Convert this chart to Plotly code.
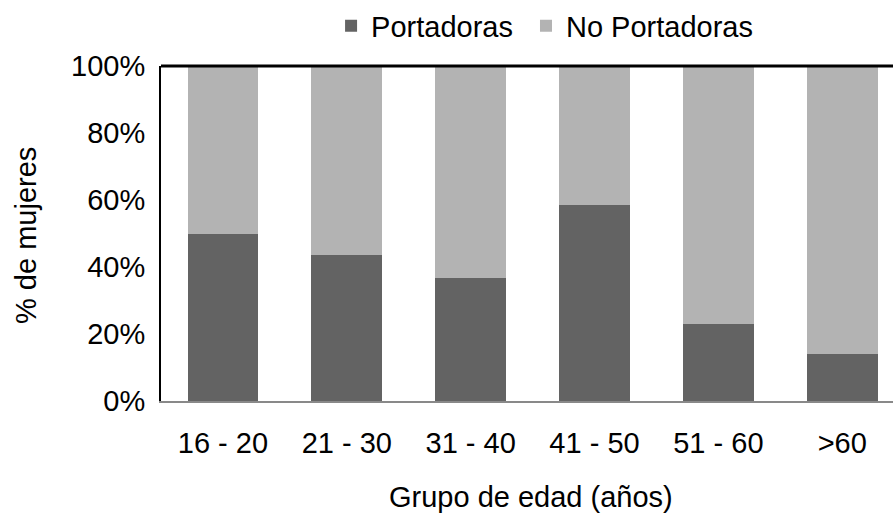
import plotly.graph_objects as go

# Age groups and share of women (%) carrying / not carrying
grupos = ["16 - 20", "21 - 30", "31 - 40", "41 - 50", "51 - 60", ">60"]
portadoras = [50.0, 43.5, 36.7, 58.5, 23.0, 14.1]
no_portadoras = [round(100 - v, 1) for v in portadoras]
y_ticks = [0, 20, 40, 60, 80, 100]
y_tick_text = [f"{v}%" for v in y_ticks]

FONT = "Liberation Sans, Arial, sans-serif"
DARK = "#636363"
LIGHT = "#b3b3b3"

fig = go.Figure()
fig.add_trace(go.Bar(x=grupos, y=portadoras, name="Portadoras\u00a0",
                     marker=dict(color=DARK, line=dict(width=0))))
fig.add_trace(go.Bar(x=grupos, y=no_portadoras, name="No Portadoras",
                     marker=dict(color=LIGHT, line=dict(width=0))))

fig.update_layout(
    width=893, height=514,
    margin=dict(l=161, r=0, t=66, b=113),
    barmode="stack", bargap=0.43,
    plot_bgcolor="white", paper_bgcolor="white",
    font=dict(family=FONT, size=29, color="black"),
    legend=dict(orientation="h", traceorder="normal",
                x=0.524, xanchor="center", y=1.12, yanchor="middle",
                font=dict(size=29), bgcolor="rgba(0,0,0,0)"),
    xaxis=dict(type="category", range=[-0.5, 5.41], showgrid=False,
               showline=True, linecolor="#898989", linewidth=2,
               ticks="", ticklabelstandoff=15),
    yaxis=dict(range=[0, 100], tickmode="array", tickvals=y_ticks, ticktext=y_tick_text,
               showgrid=False, zeroline=False, showline=True, linecolor="black",
               linewidth=2, ticks="", ticklabelstandoff=8),
    # black upper edge of the plotting frame
    shapes=[dict(type="line", xref="paper", yref="paper", x0=0, x1=1, y0=1, y1=1,
                 line=dict(color="black", width=3))],
)

fig.add_annotation(text="Grupo de edad (años)", xref="paper", yref="paper",
                   x=(531 - 161) / 732, y=(401 - 497) / 335, xanchor="center", yanchor="middle",
                   showarrow=False, font=dict(size=29))
fig.add_annotation(text="% de mujeres", xref="paper", yref="paper", textangle=-90,
                   x=(26 - 161) / 732, y=(401 - 236) / 335, xanchor="center", yanchor="middle",
                   showarrow=False, font=dict(size=29))

fig.write_html("out.html")
